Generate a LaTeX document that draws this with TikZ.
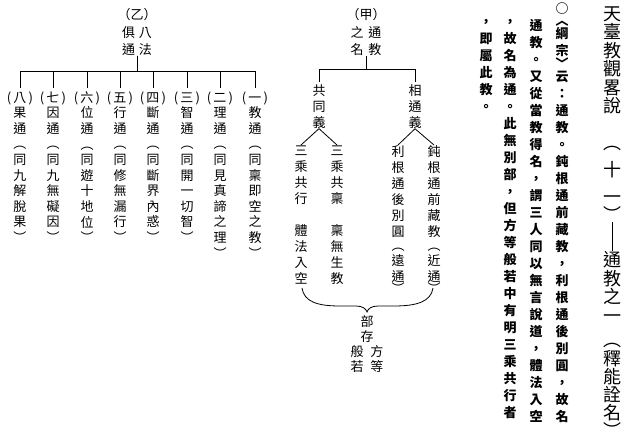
\documentclass[tikz,border=0pt]{standalone}
\usepackage{fontspec}
\newfontfamily\cjk{Noto Sans CJK TC}
\usetikzlibrary{positioning}

% one character per line
\def\vs#1{\vsfirst#1\relax}
\def\vsfirst#1{#1\vsnext}
\def\vsnext#1{\ifx#1\relax\else\\#1\expandafter\vsnext\fi}

\begin{document}
\begin{tikzpicture}[x=1pt, y=-1pt, line width=0.8pt,
    every node/.style={inner sep=0pt, align=center},
    treehead/.style={anchor=north, font=\cjk\fontsize{13}{17.5}\selectfont},
    item/.style={anchor=north, font=\cjk\fontsize{13}{15.6}\selectfont},
    branch/.style={anchor=north, font=\cjk\fontsize{13}{16}\selectfont},
    bodycol/.style={anchor=north, font=\cjk\bfseries\fontsize{13}{17}\selectfont},
    titlecol/.style={anchor=north, font=\cjk\fontsize{18}{18.5}\selectfont}]
    \useasboundingbox (0,0) rectangle (629,441);

    % nodes %
      \node[titlecol] (t1) at (612,6) {\vs{天臺教觀畧說}\\[18pt]︵\\[9pt]十\\[8pt]一\\︶};
      \node[titlecol] (t2) at (612,251) {通\\教\\之\\一\\[5.5pt]︵\\[0.5pt]釋\\[-0.5pt]能\\[-0.5pt]詮\\[-0.5pt]名\\[-0.5pt]︶};

      \node[bodycol] (b1) at (562,2) {○\\[-4.25pt]︿\\[-4.25pt]\vs{綱宗}\\[-4.25pt]﹀\\[-4.25pt]\vs{云：通教。鈍根通前藏教，利根通後別圓，故名}};
      \node[bodycol] (b2) at (536,19) {\vs{通教。又從當教得名，謂三人同以無言說道，體法入空}};
      \node[bodycol] (b3) at (510,19) {\vs{，故名為通。此無別部，但方等般若中有明三乘共行者}};
      \node[bodycol] (b4) at (486,19) {\vs{，即屬此教。}};

      \node[treehead] (yi) at (137,8) {（乙）\\俱\hspace{4pt}八\\通\hspace{4pt}法};
      \node[item] (c1) at (255,91) {(\,一\,)\\\vs{教通︵同稟即空之教︶}};
      \node[item] (c2) at (220,91) {(\,二\,)\\\vs{理通︵同見真諦之理︶}};
      \node[item] (c3) at (187,91) {(\,三\,)\\\vs{智通︵同開一切智︶}};
      \node[item] (c4) at (153,91) {(\,四\,)\\\vs{斷通︵同斷界內惑︶}};
      \node[item] (c5) at (120,91) {(\,五\,)\\\vs{行通︵同修無漏行︶}};
      \node[item] (c6) at (87,91) {(\,六\,)\\\vs{位通︵同遊十地位︶}};
      \node[item] (c7) at (53,91) {(\,七\,)\\\vs{因通︵同九無礙因︶}};
      \node[item] (c8) at (20,91) {(\,八\,)\\\vs{果通︵同九解脫果︶}};

      \node[treehead] (jia) at (366,8) {（甲）\\之\hspace{5pt}通\\名\hspace{5pt}教};
      \node[branch] (gong) at (319,84) {\vs{共同義}};
      \node[branch] (xiang) at (415,84) {\vs{相通義}};
      \node[branch] (gong1) at (337,145) {\vs{三乘共稟~稟無生教}};
      \node[branch] (gong2) at (301,145) {\vs{三乘共行~體法入空}};
      \node[branch] (xiang1) at (434,145) {\vs{鈍根通前藏教}\\[-2pt]︵\\[-1pt]\vs{近通}\\[-4pt]︶};
      \node[branch] (xiang2) at (398,145) {\vs{利根通後別圓}\\[-2pt]︵\\[-1pt]\vs{遠通}\\[-4pt]︶};

      \coordinate (brl) at (302,288);
      \coordinate (brr) at (433,288);
      \coordinate (tip) at (367,312);
      \node[branch, font=\cjk\fontsize{13}{15}\selectfont, below=3pt of tip] (bu) {部\\存\\般\hspace{7pt}方\\若\hspace{7pt}等};

      % edges %
      \draw (t1.south) -- (t2.north);
      \foreach \n in {1,...,8}
        \draw[shorten >=3pt] (yi.south) -- ++(0,15) -| (c\n.north);
      \draw[shorten >=2pt] (jia.south) -- ++(0,13) -| (gong.north);
      \draw[shorten >=2pt] (jia.south) -- ++(0,13) -| (xiang.north);
      \draw (gong.south) -- (gong1.north);
      \draw (gong.south) -- (gong2.north);
      \draw (xiang.south) -- (xiang1.north);
      \draw (xiang.south) -- (xiang2.north);
      \draw (brl) .. controls (304,302) and (318,306) .. (340,306) -- (356,306)
        .. controls (363,306) and (366,309) .. (tip)
        .. controls (368,309) and (371,306) .. (378,306) -- (394,306)
        .. controls (416,306) and (431,302) .. (brr);
\end{tikzpicture}
\end{document}
